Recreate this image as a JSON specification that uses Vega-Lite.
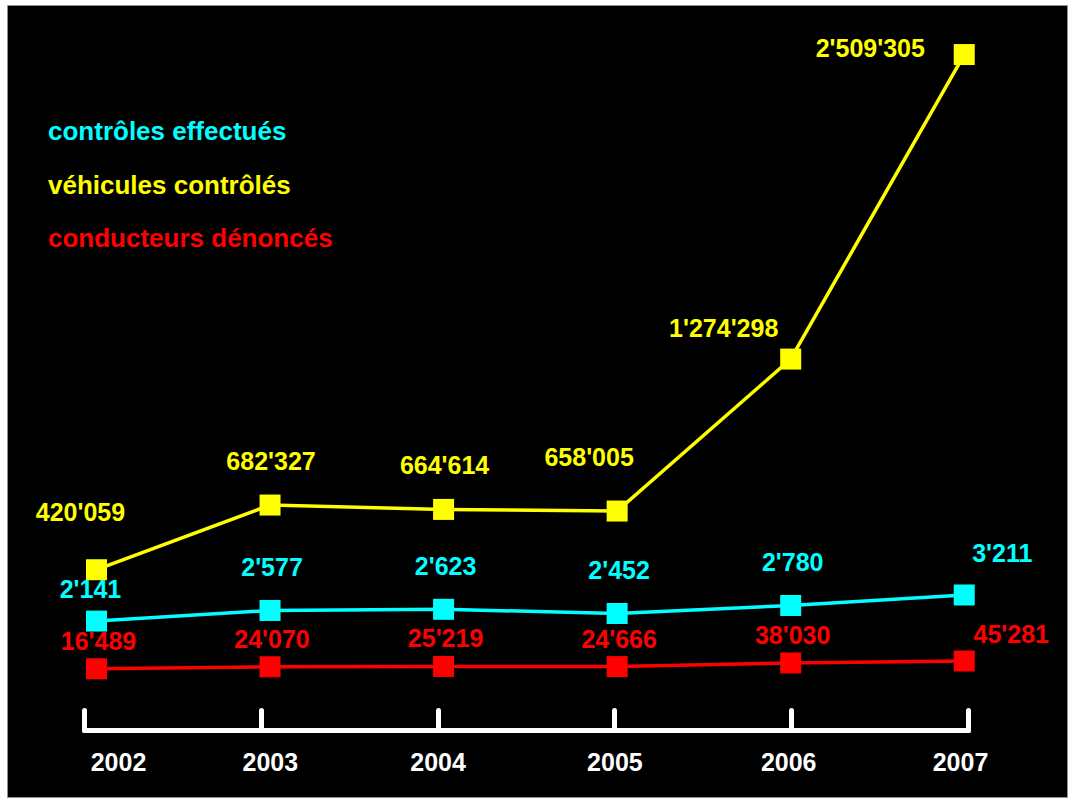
{
  "$schema": "https://vega.github.io/schema/vega-lite/v6.json",
  "width": 1060,
  "height": 792,
  "autosize": "none",
  "padding": {"left": 7, "top": 5, "right": 2, "bottom": 2},
  "background": "white",
  "view": {"fill": "black", "stroke": "#909090", "strokeWidth": 1},
  "config": {
    "locale": {"number": {"decimal": ".", "thousands": "'", "grouping": [3], "currency": ["", ""]}},
    "font": "Liberation Sans",
    "text": {"font": "Liberation Sans", "fontWeight": "bold", "fontSize": 25}
  },
  "data": {
    "values": [
      {"annee": 2002, "serie": "véhicules contrôlés", "valeur": 420059},
      {"annee": 2003, "serie": "véhicules contrôlés", "valeur": 682327},
      {"annee": 2004, "serie": "véhicules contrôlés", "valeur": 664614},
      {"annee": 2005, "serie": "véhicules contrôlés", "valeur": 658005},
      {"annee": 2006, "serie": "véhicules contrôlés", "valeur": 1274298},
      {"annee": 2007, "serie": "véhicules contrôlés", "valeur": 2509305},
      {"annee": 2002, "serie": "contrôles effectués", "valeur": 2141},
      {"annee": 2003, "serie": "contrôles effectués", "valeur": 2577},
      {"annee": 2004, "serie": "contrôles effectués", "valeur": 2623},
      {"annee": 2005, "serie": "contrôles effectués", "valeur": 2452},
      {"annee": 2006, "serie": "contrôles effectués", "valeur": 2780},
      {"annee": 2007, "serie": "contrôles effectués", "valeur": 3211},
      {"annee": 2002, "serie": "conducteurs dénoncés", "valeur": 16489},
      {"annee": 2003, "serie": "conducteurs dénoncés", "valeur": 24070},
      {"annee": 2004, "serie": "conducteurs dénoncés", "valeur": 25219},
      {"annee": 2005, "serie": "conducteurs dénoncés", "valeur": 24666},
      {"annee": 2006, "serie": "conducteurs dénoncés", "valeur": 38030},
      {"annee": 2007, "serie": "conducteurs dénoncés", "valeur": 45281}
    ]
  },
  "resolve": {"scale": {"x": "independent", "y": "independent"}},
  "layer": [
    {
      "transform": [{"filter": "datum.serie === 'contrôles effectués'"}],
      "mark": {"type": "point", "opacity": 0},
      "encoding": {
        "x": {
          "field": "annee", "type": "quantitative",
          "scale": {"domain": [2002, 2007], "range": [77, 961], "nice": false, "zero": false},
          "axis": {
            "orient": "bottom", "offset": -67, "title": null, "grid": false,
            "values": [2002, 2003, 2004, 2005, 2006, 2007], "format": "d",
            "domainColor": "white", "domainWidth": 5, "domainCap": "round",
            "tickColor": "white", "tickWidth": 5, "tickSize": -20, "tickCap": "round",
            "labelColor": "white", "labelFont": "Liberation Sans", "labelFontWeight": "bold",
            "labelFontSize": 25, "labelPadding": 40, "labelFlush": false, "labelOverlap": false,
            "labelOffset": {"expr": "datum.value === 2002 ? 34 : datum.value === 2003 ? 9 : datum.value === 2007 ? -8 : datum.value === 2006 ? -3 : 0"}
          }
        }
      }
    },
    {
      "transform": [{"filter": "datum.serie === 'véhicules contrôlés'"}],
      "encoding": {
        "x": {"field": "annee", "type": "quantitative", "scale": {"domain": [2001.4843, 2007.5921], "nice": false, "zero": false}, "axis": null},
        "y": {"field": "valeur", "type": "quantitative", "scale": {"domain": [-501653, 2710225], "nice": false, "zero": false}, "axis": null},
        "color": {
          "field": "serie", "type": "nominal",
          "scale": {"domain": ["contrôles effectués", "véhicules contrôlés", "conducteurs dénoncés"], "range": ["#00ffff", "#ffff00", "#ff0000"]},
          "legend": {
            "orient": "none", "legendX": 15, "legendY": 114, "title": null,
            "symbolSize": 0, "symbolOpacity": 0, "symbolStrokeWidth": 0, "labelOffset": 0,
            "labelFont": "Liberation Sans", "labelFontWeight": "bold", "labelFontSize": 26, "labelLimit": 0,
            "rowPadding": 27.5, "padding": 0,
            "labelColor": {"expr": "datum.value === 'contrôles effectués' ? '#00ffff' : datum.value === 'véhicules contrôlés' ? '#ffff00' : '#ff0000'"}
          }
        }
      },
      "layer": [
        {"mark": {"type": "line", "strokeWidth": 3.5}},
        {"mark": {"type": "point", "shape": "square", "filled": true, "size": 441, "opacity": 1, "strokeWidth": 0}},
        {"transform": [{"filter": "datum.annee === 2002"}], "mark": {"type": "text", "dx": -16, "dy": -57}, "encoding": {"text": {"field": "valeur", "format": ","}}},
        {"transform": [{"filter": "datum.annee === 2003 || datum.annee === 2004"}], "mark": {"type": "text", "dx": 1, "dy": -43}, "encoding": {"text": {"field": "valeur", "format": ","}}},
        {"transform": [{"filter": "datum.annee === 2005"}], "mark": {"type": "text", "dx": -28, "dy": -53}, "encoding": {"text": {"field": "valeur", "format": ","}}},
        {"transform": [{"filter": "datum.annee === 2006"}], "mark": {"type": "text", "dx": -67, "dy": -30}, "encoding": {"text": {"field": "valeur", "format": ","}}},
        {"transform": [{"filter": "datum.annee === 2007"}], "mark": {"type": "text", "dx": -94, "dy": -6}, "encoding": {"text": {"field": "valeur", "format": ","}}}
      ]
    },
    {
      "transform": [{"filter": "datum.serie === 'contrôles effectués'"}],
      "encoding": {
        "x": {"field": "annee", "type": "quantitative", "scale": {"domain": [2001.4843, 2007.5921], "nice": false, "zero": false}, "axis": null},
        "y": {"field": "valeur", "type": "quantitative", "scale": {"domain": [-5072, 27400], "nice": false, "zero": false}, "axis": null},
        "color": {
          "field": "serie", "type": "nominal",
          "scale": {"domain": ["contrôles effectués", "véhicules contrôlés", "conducteurs dénoncés"], "range": ["#00ffff", "#ffff00", "#ff0000"]},
          "legend": {
            "orient": "none", "legendX": 15, "legendY": 114, "title": null,
            "symbolSize": 0, "symbolOpacity": 0, "symbolStrokeWidth": 0, "labelOffset": 0,
            "labelFont": "Liberation Sans", "labelFontWeight": "bold", "labelFontSize": 26, "labelLimit": 0,
            "rowPadding": 27.5, "padding": 0,
            "labelColor": {"expr": "datum.value === 'contrôles effectués' ? '#00ffff' : datum.value === 'véhicules contrôlés' ? '#ffff00' : '#ff0000'"}
          }
        }
      },
      "layer": [
        {"mark": {"type": "line", "strokeWidth": 3.5}},
        {"mark": {"type": "point", "shape": "square", "filled": true, "size": 441, "opacity": 1, "strokeWidth": 0}},
        {"transform": [{"filter": "datum.annee === 2002"}], "mark": {"type": "text", "dx": -6, "dy": -31}, "encoding": {"text": {"field": "valeur", "format": ","}}},
        {"transform": [{"filter": "datum.annee >= 2003 && datum.annee <= 2006"}], "mark": {"type": "text", "dx": 2, "dy": -42}, "encoding": {"text": {"field": "valeur", "format": ","}}},
        {"transform": [{"filter": "datum.annee === 2007"}], "mark": {"type": "text", "dx": 38, "dy": -41}, "encoding": {"text": {"field": "valeur", "format": ","}}}
      ]
    },
    {
      "transform": [{"filter": "datum.serie === 'conducteurs dénoncés'"}],
      "encoding": {
        "x": {"field": "annee", "type": "quantitative", "scale": {"domain": [2001.4843, 2007.5921], "nice": false, "zero": false}, "axis": null},
        "y": {"field": "valeur", "type": "quantitative", "scale": {"domain": [-455340, 2460012], "nice": false, "zero": false}, "axis": null},
        "color": {
          "field": "serie", "type": "nominal",
          "scale": {"domain": ["contrôles effectués", "véhicules contrôlés", "conducteurs dénoncés"], "range": ["#00ffff", "#ffff00", "#ff0000"]},
          "legend": {
            "orient": "none", "legendX": 15, "legendY": 114, "title": null,
            "symbolSize": 0, "symbolOpacity": 0, "symbolStrokeWidth": 0, "labelOffset": 0,
            "labelFont": "Liberation Sans", "labelFontWeight": "bold", "labelFontSize": 26, "labelLimit": 0,
            "rowPadding": 27.5, "padding": 0,
            "labelColor": {"expr": "datum.value === 'contrôles effectués' ? '#00ffff' : datum.value === 'véhicules contrôlés' ? '#ffff00' : '#ff0000'"}
          }
        }
      },
      "layer": [
        {"mark": {"type": "line", "strokeWidth": 3.5}},
        {"mark": {"type": "point", "shape": "square", "filled": true, "size": 441, "opacity": 1, "strokeWidth": 0}},
        {"transform": [{"filter": "datum.annee <= 2006"}], "mark": {"type": "text", "dx": 2, "dy": -27}, "encoding": {"text": {"field": "valeur", "format": ","}}},
        {"transform": [{"filter": "datum.annee === 2007"}], "mark": {"type": "text", "dx": 47, "dy": -26}, "encoding": {"text": {"field": "valeur", "format": ","}}}
      ]
    }
  ]
}
